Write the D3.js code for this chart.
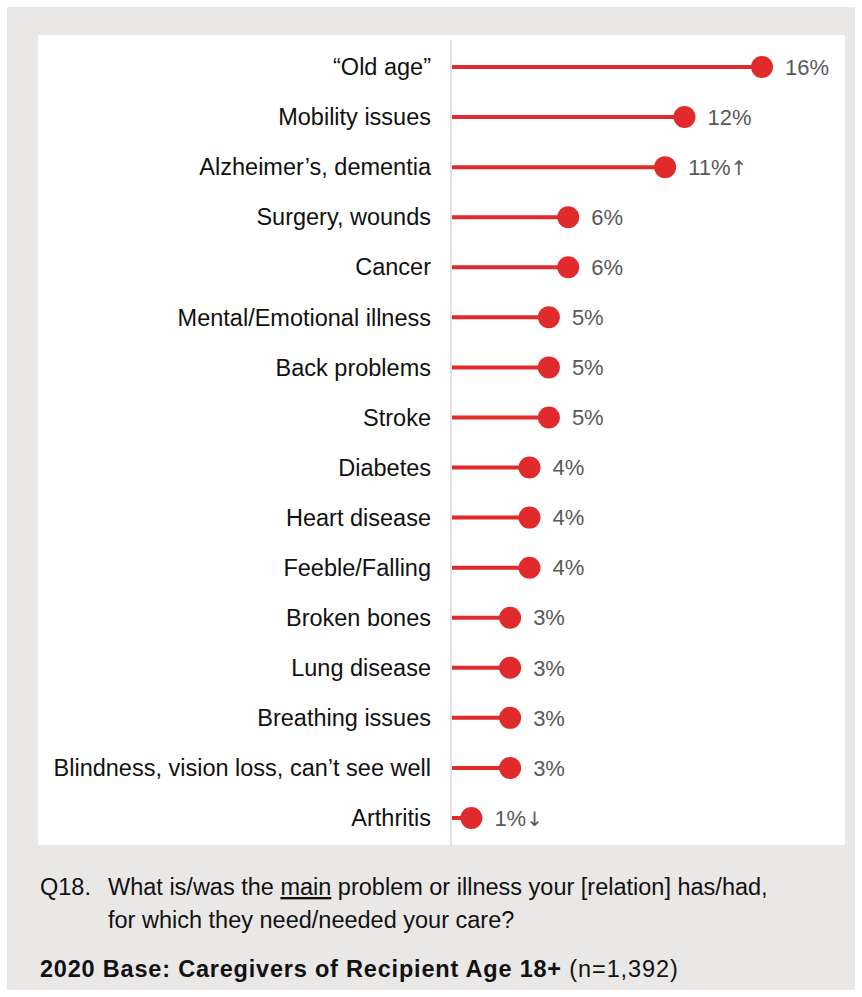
<!DOCTYPE html>
<html><head><meta charset="utf-8">
<script src="https://cdn.jsdelivr.net/npm/d3@7"></script>
<style>
body{margin:0;background:#fff;}
svg{display:block;}
</style></head>
<body>
<svg id="chart" width="862" height="997"></svg>
<script>
const categories = ["\u201cOld age\u201d","Mobility issues","Alzheimer\u2019s, dementia","Surgery, wounds","Cancer","Mental/Emotional illness","Back problems","Stroke","Diabetes","Heart disease","Feeble/Falling","Broken bones","Lung disease","Breathing issues","Blindness, vision loss, can\u2019t see well","Arthritis"];
const values = [16,12,11,6,6,5,5,5,4,4,4,3,3,3,3,1];
const markers = ["","","\u2191","","","","","","","","","","","","","\u2193"];

const svg = d3.select("#chart");
svg.append("rect").attr("x",7).attr("y",7).attr("width",848).attr("height",983).attr("fill","#e9e8e6");
svg.append("rect").attr("x",38).attr("y",35).attr("width",807).attr("height",810).attr("fill","#fff");

const x = d3.scaleLinear().domain([0,16]).range([452,762]);
const y = d3.scalePoint().domain(categories).range([67,818]);

svg.append("line").attr("x1",451).attr("x2",451).attr("y1",40).attr("y2",845).attr("stroke","#d9d9d9").attr("stroke-width",1.5);

const red = "#e02a2b";
const sans = "'Liberation Sans', Arial, sans-serif";
const g = svg.append("g");
categories.forEach((c,i)=>{
  const cy = y(c), cx = x(values[i]);
  g.append("line").attr("x1",x(0)).attr("x2",cx).attr("y1",cy).attr("y2",cy).attr("stroke",red).attr("stroke-width",4);
  g.append("circle").attr("cx",cx).attr("cy",cy).attr("r",11).attr("fill",red);
  g.append("text").attr("x",431).attr("y",cy).attr("dy","0.35em").attr("text-anchor","end")
    .attr("font-family",sans).attr("font-size",23.5).attr("fill","#111").text(c);
  const vt = g.append("text").attr("x",cx+23).attr("y",cy).attr("dy","0.35em")
    .attr("font-family",sans).attr("font-size",22).attr("fill","#595959");
  vt.append("tspan").text(values[i]+"%");
  if (markers[i]) vt.append("tspan").attr("font-family","'DejaVu Sans'").attr("font-size",20).text(markers[i]);
});

const ff = sans;
const fs = 23.5;
svg.append("text").attr("x",40).attr("y",895).attr("font-family",ff).attr("font-size",fs).attr("fill","#111").text("Q18.");
const t1b = svg.append("text").attr("x",108).attr("y",895).attr("font-family",ff).attr("font-size",fs).attr("fill","#111");
t1b.append("tspan").text("What is/was the ");
t1b.append("tspan").attr("text-decoration","underline").text("main");
t1b.append("tspan").text(" problem or illness your [relation] has/had,");
svg.append("text").attr("x",108).attr("y",928).attr("font-family",ff).attr("font-size",fs).attr("fill","#111").text("for which they need/needed your care?");
const t3 = svg.append("text").attr("x",40).attr("y",977).attr("font-family",ff).attr("font-size",fs).attr("fill","#111");
t3.append("tspan").attr("font-weight","bold").attr("letter-spacing",0.8).text("2020 Base: Caregivers of Recipient Age 18+");
t3.append("tspan").attr("letter-spacing",0.9).text(" (n=1,392)");
</script>
</body></html>
